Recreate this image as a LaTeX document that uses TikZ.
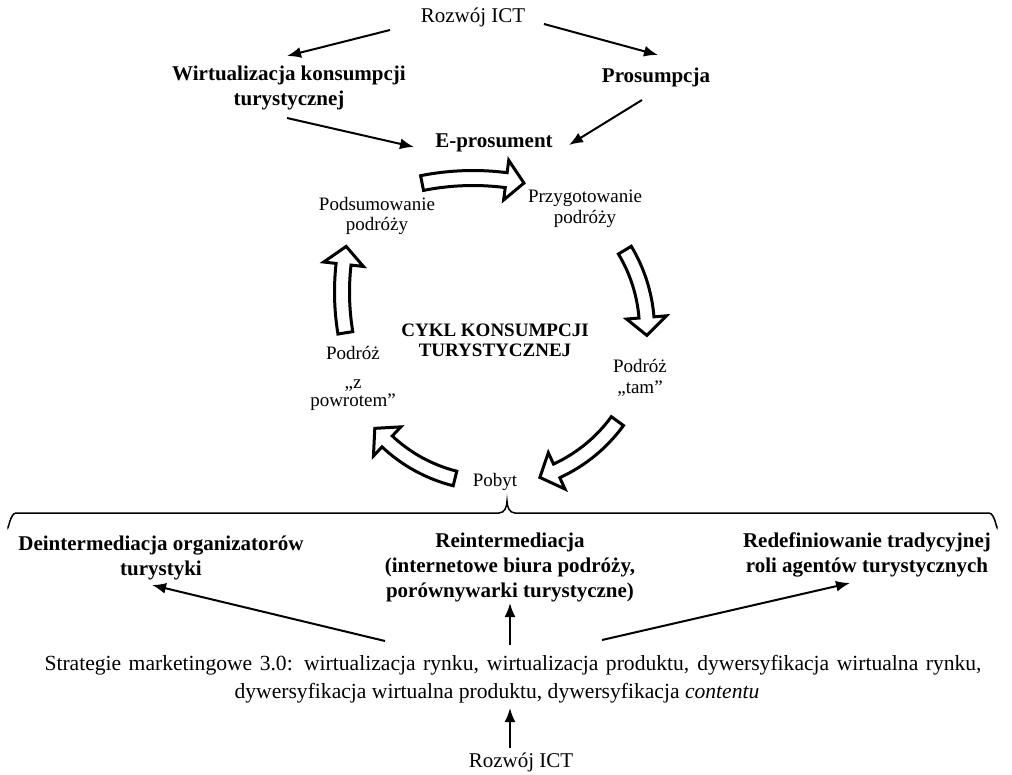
\documentclass[tikz,border=0pt]{standalone}
\usepackage{fontspec}
\setmainfont{Liberation Serif}
\usetikzlibrary{arrows.meta}
\tikzset{
  lbl/.style={align=center,inner sep=0pt,font=\fontsize{21}{25}\selectfont},
  lblb/.style={align=center,inner sep=0pt,font=\fontsize{21}{25}\selectfont\bfseries},
  cyc/.style={align=center,inner sep=0pt,font=\fontsize{19}{20.5}\selectfont},
  thinarr/.style={-{Latex[length=14pt,width=11pt]},line width=2pt},
  cyclearr/.style={line width=3pt,line join=miter,fill=white},
}
% hollow curved arrow: center, radius, start angle, end angle
\newcommand{\cyclearrow}[4]{%
  \pgfmathsetmacro{\hb}{#4-18/#2*57.3}%
  \pgfmathsetmacro{\ro}{#2+7.5}\pgfmathsetmacro{\ri}{#2-7.5}%
  \pgfmathsetmacro{\rho}{#2+20}\pgfmathsetmacro{\rhi}{#2-20}%
  \draw[cyclearr,shift={(#1)}] (#3:\ro) arc[start angle=#3,end angle=\hb,radius=\ro]
    -- (\hb:\rho) -- (#4:#2) -- (\hb:\rhi) -- (\hb:\ri)
    arc[start angle=\hb,end angle=#3,radius=\ri] -- cycle;
}
\begin{document}
\begin{tikzpicture}[x=1pt,y=-1pt]
  \useasboundingbox (0,0) rectangle (1012,774);
  % top part
  \node[lbl] (ict1) at (473,17) {Rozwój ICT};
  \node[lblb] (wirt) at (289,88) {Wirtualizacja konsumpcji\\turystycznej};
  \node[lblb] (prosum) at (656,77) {Prosumpcja};
  \node[lblb] (epros) at (494,143) {E-prosument};
  \draw[thinarr] ([shift={(-83,13)}]ict1.center) -- ([shift={(-2,-32)}]wirt.center);
  \draw[thinarr] ([shift={(71,7)}]ict1.center) -- ([shift={(2,-22)}]prosum.center);
  \draw[thinarr] ([shift={(-2,30)}]wirt.center) -- ([shift={(-80,4)}]epros.center);
  \draw[thinarr] ([shift={(-14,23)}]prosum.center) -- ([shift={(75,2)}]epros.center);
  % cycle
  \node[cyc] (podsum) at (377,216) {Podsumowanie\\podróży};
  \node[cyc] (przyg) at (585,209) {Przygotowanie\\podróży};
  \node[lblb,font=\fontsize{19}{20}\selectfont\bfseries] (cykl) at (495,340) {CYKL KONSUMPCJI\\TURYSTYCZNEJ};
  \node[cyc] (tam) at (640,378) {Podróż\\„tam”};
  \node[cyc] (pobyt) at (495,482) {Pobyt};
  \node[cyc] (powrot) at (353,378) {Podróż\\[9pt]„z\\[-3pt]powrotem”};
  \cyclearrow{473,438}{260}{-101.3}{-78.7}
  \cyclearrow{492,330}{155}{-31}{2}
  \cyclearrow{492,330}{155}{36}{72}
  \cyclearrow{492,330}{153}{104}{140}
  \cyclearrow{592,292}{250}{170.6}{190.5}
  % brace
  \draw[line width=1.5pt] (8,526) to[out=-90,in=180] (16,513) -- (499,513)
    to[out=0,in=-90] (507,501) to[out=-90,in=180] (515,513) -- (989,513) to[out=0,in=-90] (997,526);
  % bottom part
  \node[lblb] (deint) at (161,558) {Deintermediacja organizatorów\\turystyki};
  \node[lblb] (reint) at (510,567) {Reintermediacja\\(internetowe biura podróży,\\porównywarki turystyczne)};
  \node[lblb] (redef) at (867,555) {Redefiniowanie tradycyjnej\\roli agentów turystycznych};
  \node[lbl,font=\fontsize{21.6}{28}\selectfont] (strat) at (513,679) {\makebox[937pt][s]{Strategie marketingowe 3.0: wirtualizacja rynku, wirtualizacja produktu, dywersyfikacja wirtualna rynku,}\\\hspace*{-32pt}dywersyfikacja wirtualna produktu, dywersyfikacja \textit{contentu}};
  \node[lbl] (ict2) at (521,762) {Rozwój ICT};
  \draw[thinarr] ([shift={(-128,-38)}]strat.center) -- ([shift={(-9,27)}]deint.center);
  \draw[thinarr] ([shift={(-3,-34)}]strat.center) -- ([shift={(0,36)}]reint.center);
  \draw[thinarr] ([shift={(89,-39)}]strat.center) -- ([shift={(-17,28)}]redef.center);
  \draw[thinarr] ([shift={(-11,-14)}]ict2.center) -- ([shift={(-3,29)}]strat.center);
\end{tikzpicture}
\end{document}
